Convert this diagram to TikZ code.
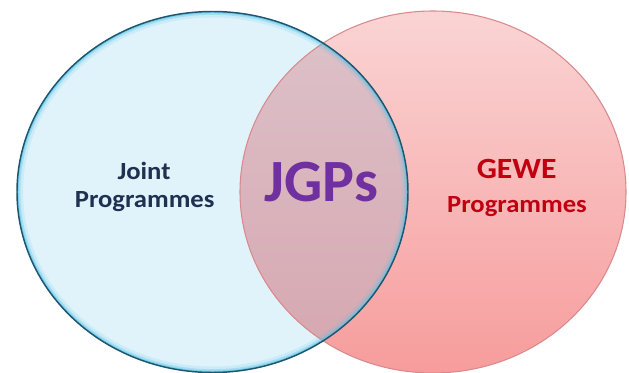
\documentclass[tikz,border=0pt]{standalone}
\usepackage{fontspec}
\setmainfont{Carlito}
\definecolor{lbfill}{HTML}{E0F3FA}
\definecolor{lbglow}{HTML}{4EC3E6}
\definecolor{lbline}{HTML}{1E5570}
\definecolor{pktop}{HTML}{FAD4D4}
\definecolor{pkbot}{HTML}{F79C9C}
\definecolor{pkline}{HTML}{D98A8E}
\definecolor{ovtop}{HTML}{DDC2CA}
\definecolor{ovbot}{HTML}{D6A6AF}
\definecolor{navytext}{HTML}{1F3150}
\definecolor{redtext}{HTML}{C00010}
\definecolor{purpletext}{HTML}{7030A0}
\tikzset{
  lbl/.style={font=\bfseries, anchor=base, inner sep=0pt, xscale=1.08},
}
\begin{document}
\begin{tikzpicture}[x=0.75pt,y=-0.75pt]
\useasboundingbox (0,0) rectangle (629,373);
\fill[white] (0,0) rectangle (629,373);
\def\leftE{(212.5,192) ellipse [x radius=195.5, y radius=180.5]}
\def\rightE{(433,192) ellipse [x radius=193, y radius=181]}
% left set
\fill[lbfill] \leftE;
% right set
\shade[top color=pktop, bottom color=pkbot] \rightE;
% overlap
\begin{scope}
  \clip \leftE;
  \shade[top color=ovtop, bottom color=ovbot] \rightE;
\end{scope}
\draw[pkline, line width=0.8pt] \rightE;
% glow inside left set
\begin{scope}
  \clip \leftE;
  \draw[lbglow, opacity=0.15, line width=9pt] \leftE;
  \draw[lbglow, opacity=0.3, line width=5pt] \leftE;
  \draw[lbglow, opacity=0.55, line width=2.5pt] \leftE;
\end{scope}
\draw[lbline, line width=1.1pt] \leftE;
% labels
\node[lbl, navytext, font=\bfseries\fontsize{18.5}{22}\selectfont] (joint) at (144,179.3) {Joint};
\node[lbl, navytext, font=\bfseries\fontsize{18.5}{22}\selectfont] (jprog) at (144.7,207.3) {Programmes};
\node[lbl, redtext, font=\bfseries\fontsize{22}{26}\selectfont] (gewe) at (516.7,178.3) {GEWE};
\node[lbl, redtext, font=\bfseries\fontsize{18.5}{22}\selectfont] (gprog) at (517,212.5) {Programmes};
\node[anchor=base, inner sep=0pt, purpletext, font=\bfseries\fontsize{45}{50}\selectfont] (jgps) at (321.5,201.7) {JGPs};
\end{tikzpicture}
\end{document}
